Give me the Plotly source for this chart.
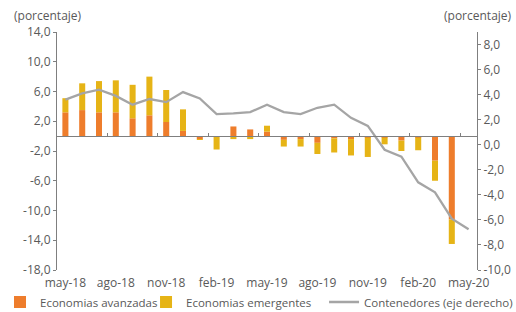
import plotly.graph_objects as go

months = ["may-18","jun-18","jul-18","ago-18","sep-18","oct-18","nov-18","dic-18",
          "ene-19","feb-19","mar-19","abr-19","may-19","jun-19","jul-19","ago-19",
          "sep-19","oct-19","nov-19","dic-19","ene-20","feb-20","mar-20","abr-20","may-20"]

avanzadas = [3.2, 3.5, 3.2, 3.2, 2.4, 2.8, 1.9, 0.7,
             -0.4, -0.1, 1.3, 0.9, 0.6, -0.5, -0.4, -0.9,
             -0.3, -0.4, -0.2, -0.2, -0.6, -0.2, -3.3, -11.2]
emergentes = [1.9, 3.6, 4.2, 4.3, 4.5, 5.2, 4.3, 2.9,
              -0.1, -1.7, -0.4, -0.4, 0.8, -0.9, -1.0, -1.5,
              -1.9, -2.2, -2.6, -0.9, -1.4, -1.7, -2.7, -3.3]
contenedores = [3.6, 4.1, 4.4, 3.9, 3.2, 3.65, 3.4, 4.2,
                3.7, 2.45, 2.5, 2.6, 3.2, 2.6, 2.45, 2.95,
                3.2, 2.15, 1.5, -0.4, -0.95, -3.0, -3.8, -5.9, -6.75]

left_ticks = [14, 10, 6, 2, -2, -6, -10, -14, -18]
left_ticktext = ["14,0", "10,0", "6,0", "2,0", "-2,0", "-6,0", "-10,0", "-14,0", "-18,0"]
right_ticks = [8, 6, 4, 2, 0, -2, -4, -6, -8, -10]
right_ticktext = ["8,0", "6,0", "4,0", "2,0", "0,0", "-2,0", "-4,0", "-6,0", "-8,0", "-10,0"]
x_label_idx = [0, 3, 6, 9, 12, 15, 18, 21, 24]

ORANGE = "#EE7D2C"
YELLOW = "#E6B416"
GRAY_LINE = "#A5A5A5"
AXIS = "#7F7F7F"
TXT = "#595959"
FONT = "Open Sans"
FS = 12
LFS = 11.5

n = len(months)
xi = list(range(n))

fig = go.Figure()
fig.add_trace(go.Bar(x=xi[:len(avanzadas)], y=avanzadas, name="Economias avanzadas",
                     marker=dict(color=ORANGE, line=dict(width=0)), width=0.36,
                     legend="legend"))
fig.add_trace(go.Bar(x=xi[:len(emergentes)], y=emergentes, name="Economias emergentes",
                     marker=dict(color=YELLOW, line=dict(width=0)), width=0.36,
                     legend="legend2"))
fig.add_trace(go.Scatter(x=xi, y=contenedores, name="Contenedores (eje derecho)",
                         mode="lines", line=dict(color=GRAY_LINE, width=2.3), yaxis="y2",
                         legend="legend3"))
# invisible helper trace so the zero-line category axis is drawn
fig.add_trace(go.Scatter(x=[0], y=[0], xaxis="x2", yaxis="y", mode="markers",
                         marker=dict(opacity=0), showlegend=False, hoverinfo="skip"))

ymin, ymax = -18, 14
zero_pos = (0 - ymin) / (ymax - ymin)

leg_common = dict(orientation="h", xref="container", yref="container",
                  y=0.032, xanchor="left", yanchor="middle",
                  font=dict(size=LFS, color=TXT), bgcolor="rgba(0,0,0,0)")

fig.update_layout(
    width=516, height=312,
    margin=dict(l=57, r=39, t=32, b=42, autoexpand=False),
    paper_bgcolor="white", plot_bgcolor="white",
    barmode="relative",
    font=dict(family=FONT, size=FS, color=TXT),
    showlegend=True,
    legend=dict(x=0.0, **leg_common),
    legend2=dict(x=0.283, **leg_common),
    legend3=dict(x=0.628, **leg_common),
    xaxis=dict(range=[-0.5, n - 0.5], tickmode="array", tickvals=x_label_idx,
               ticktext=[months[i] for i in x_label_idx], showline=False,
               showgrid=False, zeroline=False, ticks="", ticklabelstandoff=4,
               tickfont=dict(size=FS, color=TXT)),
    xaxis2=dict(range=[-0.5, n - 0.5], overlaying="x", anchor="free", position=zero_pos,
                side="bottom", showline=True, linecolor=AXIS, linewidth=1,
                tickmode="array", tickvals=[i + 2.5 for i in range(0, n - 1, 3)],
                ticks="inside", ticklen=3, tickcolor=AXIS, showticklabels=False,
                showgrid=False, zeroline=False),
    yaxis=dict(range=[ymin, ymax], tickmode="array", tickvals=left_ticks,
               ticktext=left_ticktext, showline=True, linecolor=AXIS, linewidth=1,
               ticks="outside", ticklen=3, tickcolor=AXIS, showgrid=False,
               zeroline=False, tickfont=dict(size=FS, color=TXT)),
    yaxis2=dict(range=[-10, 9], overlaying="y", side="right", tickmode="array",
                tickvals=right_ticks, ticktext=right_ticktext, showline=True,
                linecolor=AXIS, linewidth=1, ticks="outside", ticklen=3,
                tickcolor=AXIS, showgrid=False, zeroline=False,
                tickfont=dict(size=FS, color=TXT)),
    annotations=[
        dict(text="(porcentaje)", xref="paper", yref="paper", x=-0.107, y=1.0,
             xanchor="left", yanchor="bottom", yshift=6, showarrow=False,
             font=dict(size=FS, color=TXT)),
        dict(text="(porcentaje)", xref="paper", yref="paper", x=1.088, y=1.0,
             xanchor="right", yanchor="bottom", yshift=6, showarrow=False,
             font=dict(size=FS, color=TXT)),
    ],
)

fig.write_html("out.html", config={"displayModeBar": False},
               post_script="document.body.style.margin='0';document.body.style.padding='0';")
